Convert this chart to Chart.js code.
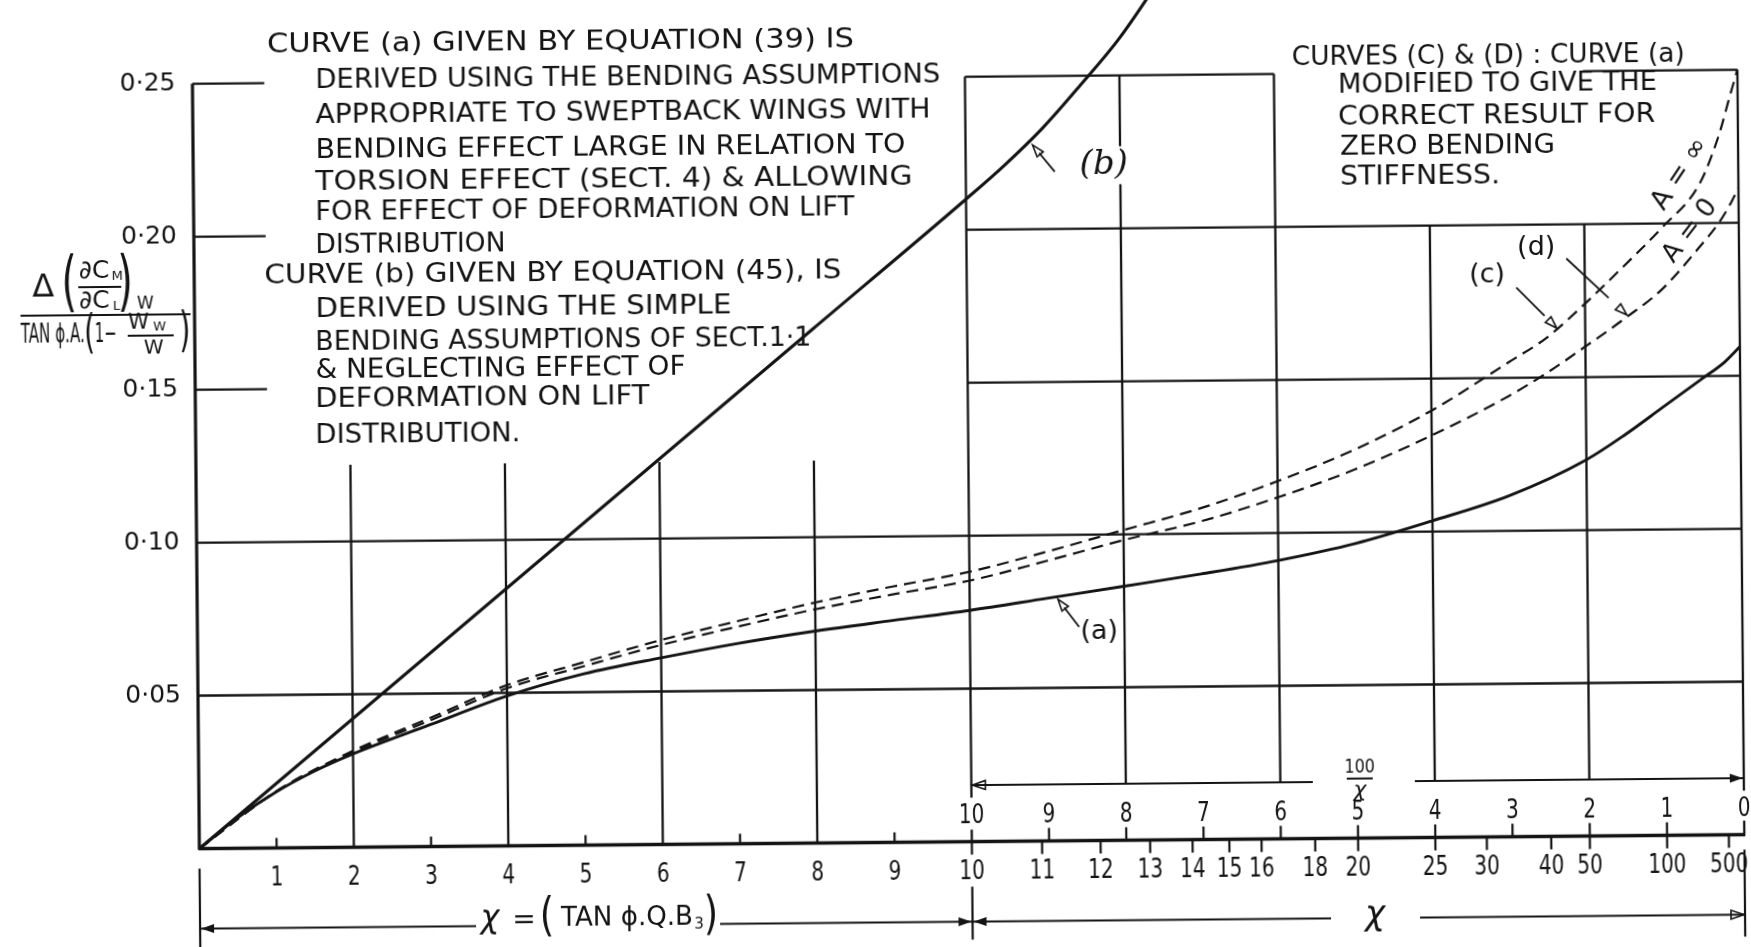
<!DOCTYPE html>
<html>
<head>
<meta charset="utf-8">
<script src="https://cdn.jsdelivr.net/npm/chart.js@4/dist/chart.umd.min.js"></script>
<style>
  html, body { margin: 0; padding: 0; background: #fff; overflow: hidden; }
  #sheet { width: 1751px; height: 947px; background: #fff; }
  /* the plotted sheet sits a little skewed on the page */
  #chart { display: block; transform: rotate(-0.52deg); transform-origin: 875.5px 473.5px; }
</style>
</head>
<body>
<div id="sheet"><canvas id="chart" width="1751" height="947"></canvas></div>
<script>
// ---- data -------------------------------------------------------------
// χ = tan φ · Q · B3 ; curve ordinates are Δ(∂Cm/∂CL)w / (tan φ · A · (1 − Ww/W))

// curve (a): equation (39)
const chiA   = [0, 0.5, 1, 1.5, 2, 3, 4, 5, 6, 7, 8, 9, 10,
                11.11, 12.5, 14.29, 16.67, 20, 25, 33.33, 50, 66.67, 100, 200, 500, 1e6];
const curveA = [0, 0.0100, 0.0183, 0.0250, 0.0305, 0.0398, 0.0490, 0.0560, 0.0610, 0.0655, 0.0693, 0.0725, 0.0756,
                0.0793, 0.0830, 0.0868, 0.0910, 0.0963, 0.1035, 0.1115, 0.1230, 0.1310, 0.1400, 0.1490, 0.1545, 0.1595];

// curve (b): equation (45)
const chiB   = [0, 2, 4, 6, 8, 10, 10.53, 11.11, 11.76, 12.5, 13.33, 14.29];
const curveB = [0, 0.042, 0.084, 0.126, 0.168, 0.210, 0.221, 0.233, 0.247, 0.262, 0.280, 0.300];

// curves (c) A = ∞ and (d) A = 0
const chiCD  = [0, 1, 2, 3, 4, 5, 6, 7, 8, 9, 10,
                11.11, 12.5, 14.29, 16.67, 20, 25, 33.33, 40, 50, 66.67, 100, 200, 400, 1000, 1e6];
const curveC = [0, 0.0185, 0.0315, 0.0420, 0.0525, 0.0598, 0.0668, 0.0728, 0.0786, 0.0836, 0.0882,
                0.0945, 0.1014, 0.1083, 0.1169, 0.1270, 0.1395, 0.1550, 0.1630, 0.1740, 0.1860, 0.1985, 0.2130, 0.2285, 0.2415, 0.2500];
const curveD = [0, 0.0184, 0.0310, 0.0412, 0.0515, 0.0585, 0.0652, 0.0710, 0.0764, 0.0810, 0.0853,
                0.0915, 0.0981, 0.1040, 0.1116, 0.1205, 0.1314, 0.1440, 0.1515, 0.1600, 0.1688, 0.1785, 0.1925, 0.2003, 0.2065, 0.2115];

// tick labels
const chiTicks   = [1, 2, 3, 4, 5, 6, 7, 8, 9, 10, 11, 12, 13, 14, 15, 16, 18, 20, 25, 30, 40, 50, 100, 500];
const recipTicks = [10, 9, 8, 7, 6, 5, 4, 3, 2, 1, 0];      // 100/χ
const yTicks     = [0.05, 0.10, 0.15, 0.20, 0.25];

// notes
const noteA  = ['CURVE (a) GIVEN BY EQUATION (39) IS',
                'DERIVED USING THE BENDING ASSUMPTIONS',
                'APPROPRIATE TO SWEPTBACK WINGS WITH',
                'BENDING EFFECT LARGE IN RELATION TO',
                'TORSION EFFECT (SECT. 4) & ALLOWING',
                'FOR EFFECT OF DEFORMATION ON LIFT',
                'DISTRIBUTION'];
const noteB  = ['CURVE (b) GIVEN BY EQUATION (45), IS',
                'DERIVED USING THE SIMPLE',
                'BENDING ASSUMPTIONS OF SECT.1·1',
                '& NEGLECTING EFFECT OF',
                'DEFORMATION ON LIFT',
                'DISTRIBUTION.'];
const noteCD = ['CURVES (C) & (D) : CURVE (a)',
                'MODIFIED TO GIVE THE',
                'CORRECT RESULT FOR',
                'ZERO BENDING',
                'STIFFNESS.'];

// ---- abscissa: linear in χ up to 10, then linear in 100/χ down to 0 ---
const chiToPos = c => (c <= 10 ? c : 20 - 100 / c);
const posToChi = p => (p <= 10 ? p : 100 / (20 - p));

class ChiScale extends Chart.LinearScale {
  determineDataLimits() { this.min = 0; this.max = 20; }
  getPixelForValue(v) { return super.getPixelForValue(chiToPos(v)); }
  getValueForPixel(px) { return posToChi(super.getValueForPixel(px)); }
}
ChiScale.id = 'chi';
ChiScale.defaults = {};
Chart.register(ChiScale);

// ---- drawing helpers ----------------------------------------------------
const INK = '#141414';
const SANS = '"DejaVu Sans", "Liberation Sans", sans-serif';

function seg(ctx, x1, y1, x2, y2, w) {
  ctx.lineWidth = w;
  ctx.beginPath(); ctx.moveTo(x1, y1); ctx.lineTo(x2, y2); ctx.stroke();
}
function txt(ctx, s, x, y, size, opt = {}) {
  ctx.save();
  ctx.font = (opt.style || '') + ' ' + size + 'px ' + (opt.family || SANS);
  ctx.textAlign = opt.align || 'center';
  ctx.textBaseline = 'middle';
  ctx.translate(x, y);
  if (opt.rot) ctx.rotate(opt.rot);
  ctx.scale(opt.sx || 1, 1);
  ctx.fillText(s, 0, 0);
  ctx.restore();
}
function fit(ctx, s, x, y, w, size, opt = {}) {
  ctx.save();
  ctx.font = (opt.style || '') + ' ' + size + 'px ' + (opt.family || SANS);
  ctx.textAlign = 'left';
  ctx.textBaseline = 'middle';
  const m = ctx.measureText(s).width;
  ctx.translate(x, y);
  ctx.scale(w / m, 1);
  ctx.fillText(s, 0, 0);
  ctx.restore();
}
function head(ctx, tx, ty, fx, fy, len, half, filled) {
  const a = Math.atan2(ty - fy, tx - fx);
  const bx = tx - len * Math.cos(a), by = ty - len * Math.sin(a);
  const px = -Math.sin(a) * half, py = Math.cos(a) * half;
  ctx.beginPath();
  ctx.moveTo(tx, ty); ctx.lineTo(bx + px, by + py); ctx.lineTo(bx - px, by - py); ctx.closePath();
  ctx.lineWidth = 1.6;
  if (filled) ctx.fill(); else ctx.stroke();
}
const fmtY = v => v.toFixed(2).replace('.', '·');

// ---- grid, axes and lettering ------------------------------------------
const ARROW_V = 0.0185;          // level of the 100/χ arrow
const hRules = [                 // [value, χ from, χ to]
  [0.25, 0, 0.93], [0.20, 0, 0.93], [0.15, 0, 0.93],
  [0.10, 0, Infinity], [0.05, 0, Infinity],
  [0.25, 10, 100 / 6], [0.25, 50, Infinity],
  [0.20, 10, Infinity], [0.15, 10, Infinity]
];
const vRules = [                 // [χ, value from, value to]
  [2, 0, 0.125], [4, 0, 0.125], [6, 0, 0.125], [8, 0, 0.125],
  [10, 0, 0.25], [12.5, ARROW_V, 0.25], [100 / 6, ARROW_V, 0.25],
  [25, ARROW_V, 0.20], [50, ARROW_V, 0.20], [Infinity, 0, 0.25]
];

const sheet = {
  id: 'sheet',
  beforeDatasetsDraw(chart) {
    const ctx = chart.ctx, xs = chart.scales.x, ys = chart.scales.y;
    const X = c => xs.getPixelForValue(c), Y = v => ys.getPixelForValue(v);
    ctx.save();
    ctx.strokeStyle = INK; ctx.fillStyle = INK; ctx.lineCap = 'butt';
    hRules.forEach(([v, a, b]) => seg(ctx, X(a), Y(v), X(b), Y(v), 2.3));
    vRules.forEach(([c, a, b]) => seg(ctx, X(c), Y(a), X(c), Y(b), 2.3));
    // axes
    seg(ctx, X(0) - 1, Y(0), X(Infinity) + 1, Y(0), 3.4);
    seg(ctx, X(0), Y(0) + 1, X(0), Y(0.25), 3.2);
    ctx.restore();
  },
  afterDatasetsDraw(chart) {
    const ctx = chart.ctx, xs = chart.scales.x, ys = chart.scales.y;
    const X = c => xs.getPixelForValue(c), Y = v => ys.getPixelForValue(v);
    const y0 = Y(0);
    ctx.save();
    ctx.strokeStyle = INK; ctx.fillStyle = INK;

    // ticks
    [1, 3, 5, 7, 9].forEach(c => seg(ctx, X(c), y0, X(c), y0 - 10, 2.2));
    recipTicks.slice(1, -1).forEach(r => seg(ctx, X(100 / r), y0, X(100 / r), y0 - 13, 2.2));
    chiTicks.filter(c => c >= 10).forEach(c => seg(ctx, X(c), y0, X(c), y0 + 13, 2.2));

    // tick labels (the end labels of the 100/χ row break their grid lines)
    ctx.fillStyle = '#fff';
    ctx.fillRect(X(10) - 15, y0 - 44, 30, 32);
    ctx.fillRect(X(Infinity) - 11, y0 - 44, 22, 30);
    ctx.fillStyle = INK;
    chiTicks.forEach(c => txt(ctx, String(c), X(c), y0 + 30, 27, { sx: 0.74 }));
    recipTicks.forEach(r => txt(ctx, String(r), X(100 / r), y0 - 26, 27, { sx: 0.74 }));
    yTicks.forEach(v => txt(ctx, fmtY(v), X(0) - 17, Y(v), 25, { align: 'right', sx: 1.0 }));

    // χ arrows under the scale
    const ya = y0 + 80;
    seg(ctx, X(0), ya, 472, ya, 2);
    seg(ctx, 716, ya, X(10), ya, 2);
    head(ctx, X(0) + 1, ya, X(0) + 20, ya, 13, 4.5, true);
    head(ctx, X(10) - 1, ya, X(10) - 20, ya, 13, 4.5, true);
    seg(ctx, X(10), ya, 1327, ya, 2);
    seg(ctx, 1416, ya, X(Infinity), ya, 2);
    head(ctx, X(10) + 1, ya, X(10) + 20, ya, 13, 4.5, true);
    head(ctx, X(Infinity) - 1, ya, X(Infinity) - 20, ya, 13, 4.5, false);
    seg(ctx, X(0), y0 + 20, X(0), y0 + 100, 2.2);
    seg(ctx, X(10), y0 + 45, X(10), y0 + 98, 2.2);
    seg(ctx, X(Infinity), y0 + 15, X(Infinity), y0 + 102, 2.2);

    // χ = (TAN ϕ.Q.B3)
    txt(ctx, 'χ', 486, y0 + 73, 32, { style: 'italic' });
    txt(ctx, '=', 520, y0 + 75, 28);
    txt(ctx, '(', 543, y0 + 73, 46, { sx: 0.8 });
    fit(ctx, 'TAN ϕ.Q.B', 557, y0 + 74, 132, 26);
    txt(ctx, '3', 695, y0 + 81, 15);
    txt(ctx, ')', 707, y0 + 73, 46, { sx: 0.8 });
    txt(ctx, 'χ', 1371, y0 + 78, 34, { style: 'italic' });

    // 100/χ arrow
    const yr = Y(ARROW_V);
    seg(ctx, X(10), yr, 1310, yr, 2);
    seg(ctx, 1412, yr, X(Infinity), yr, 2);
    head(ctx, X(10) + 1, yr, X(10) + 20, yr, 13, 4.5, false);
    head(ctx, X(Infinity) - 1, yr, X(Infinity) - 20, yr, 13, 4.5, true);
    txt(ctx, '100', 1357, yr - 14, 20, { sx: 0.8 });
    seg(ctx, 1344, yr - 3, 1370, yr - 3, 2);
    txt(ctx, 'χ', 1357, yr + 9, 22, { style: 'italic' });

    // ordinate title
    txt(ctx, 'Δ', 45, 281, 32);
    txt(ctx, '(', 71, 279, 66, { sx: 0.6 });
    txt(ctx, '∂C', 96, 264, 25);
    txt(ctx, 'M', 119, 270, 13);
    seg(ctx, 80, 280, 123, 280, 2);
    txt(ctx, '∂C', 96, 294, 25);
    txt(ctx, 'L', 118, 300, 13);
    txt(ctx, ')', 127, 279, 66, { sx: 0.6 });
    txt(ctx, 'W', 147, 298, 17);
    seg(ctx, 22, 308, 192, 308, 2.2);
    fit(ctx, 'TAN ϕ.A.', 22, 328, 64, 27);
    txt(ctx, '(', 91, 328, 46, { sx: 0.6 });
    fit(ctx, '1−', 96, 328, 22, 27);
    txt(ctx, 'W', 140, 317, 21);
    txt(ctx, 'W', 161, 321, 13);
    seg(ctx, 129, 329, 175, 329, 1.8);
    txt(ctx, 'W', 155, 342, 20);
    txt(ctx, ')', 186, 328, 48, { sx: 0.6 });

    // notes
    const rowsA  = [[270.9, 40.5, 587], [319, 76.6, 625], [318.7, 111.6, 615], [318.4, 146.6, 590],
                    [318.1, 178.2, 597], [317.8, 208.2, 539], [317.5, 241.6, 190]];
    const rowsB  = [[266.3, 271.2, 577], [316.9, 304.9, 416], [316.6, 338.2, 496], [316.4, 366.6, 370],
                    [316.1, 394.9, 334], [315.8, 431.6, 205]];
    const rowsCD = [[1295.5, 61.8, 393], [1341.5, 90.5, 319], [1341.3, 122.2, 317],
                    [1343, 152.2, 215], [1342.7, 182.2, 160]];
    noteA.forEach((s, i) => fit(ctx, s, rowsA[i][0], rowsA[i][1], rowsA[i][2], 26));
    noteB.forEach((s, i) => fit(ctx, s, rowsB[i][0], rowsB[i][1], rowsB[i][2], 26));
    noteCD.forEach((s, i) => fit(ctx, s, rowsCD[i][0], rowsCD[i][1], rowsCD[i][2], 26));

    // curve labels with pointers: [text, χ, value, tail dx, dy, label dx, dy, size, style]
    const pointers = [
      ['(a)', 11.29, 0.0790, 21, 28, 41, 33, 27, ''],
      ['(b)', 10.95, 0.2275, 22, 27, 71, 21, 34, 'italic'],
      ['(c)', 42.2, 0.1661, -40, -41, -69, -53, 27, ''],
      ['(d)', 68.5, 0.1702, -60, -57, -90, -68, 27, '']
    ];
    pointers.forEach(([s, c, v, tdx, tdy, ldx, ldy, size, style]) => {
      const tx = X(c), ty = Y(v);
      ctx.fillStyle = '#fff';
      ctx.fillRect(tx + ldx - 24, ty + ldy - 19, 48, 38);
      ctx.fillStyle = INK;
      ctx.strokeStyle = INK;
      seg(ctx, tx + tdx, ty + tdy, tx + tdx * 0.3, ty + tdy * 0.3, 1.8);
      head(ctx, tx, ty, tx + tdx, ty + tdy, 12, 4, false);
      txt(ctx, s, tx + ldx, ty + ldy, size, { style, family: style ? '"DejaVu Serif", serif' : SANS });
    });

    // A labels along the dashed curves
    txt(ctx, 'A = ∞', 1682.7, 181.3, 27, { rot: -56 * Math.PI / 180 });
    txt(ctx, 'A = 0', 1692.2, 238.4, 26, { rot: -52 * Math.PI / 180 });
    ctx.restore();
  }
};

// ---- chart -------------------------------------------------------------
const pts = (xs, ys) => xs.map((x, i) => ({ x, y: ys[i] }));
const line = (data, width, dash) => ({
  data, borderColor: INK, borderWidth: width, borderDash: dash || [],
  pointRadius: 0, fill: false, cubicInterpolationMode: 'monotone'
});

new Chart(document.getElementById('chart'), {
  type: 'line',
  data: {
    datasets: [
      line(pts(chiB, curveB), 3.1),
      line(pts(chiA, curveA), 2.9),
      line(pts(chiCD, curveC), 2.2, [12, 7]),
      line(pts(chiCD, curveD), 2.2, [12, 7])
    ]
  },
  options: {
    responsive: false,
    animation: false,
    devicePixelRatio: 1,
    layout: { padding: { left: 196, right: 10, top: 0, bottom: 104.5 } },
    plugins: { legend: { display: false }, tooltip: { enabled: false } },
    scales: {
      x: { type: 'chi', display: false },
      y: { type: 'linear', min: 0, max: 0.27536, display: false }
    }
  },
  plugins: [sheet]
});
</script>
</body>
</html>
